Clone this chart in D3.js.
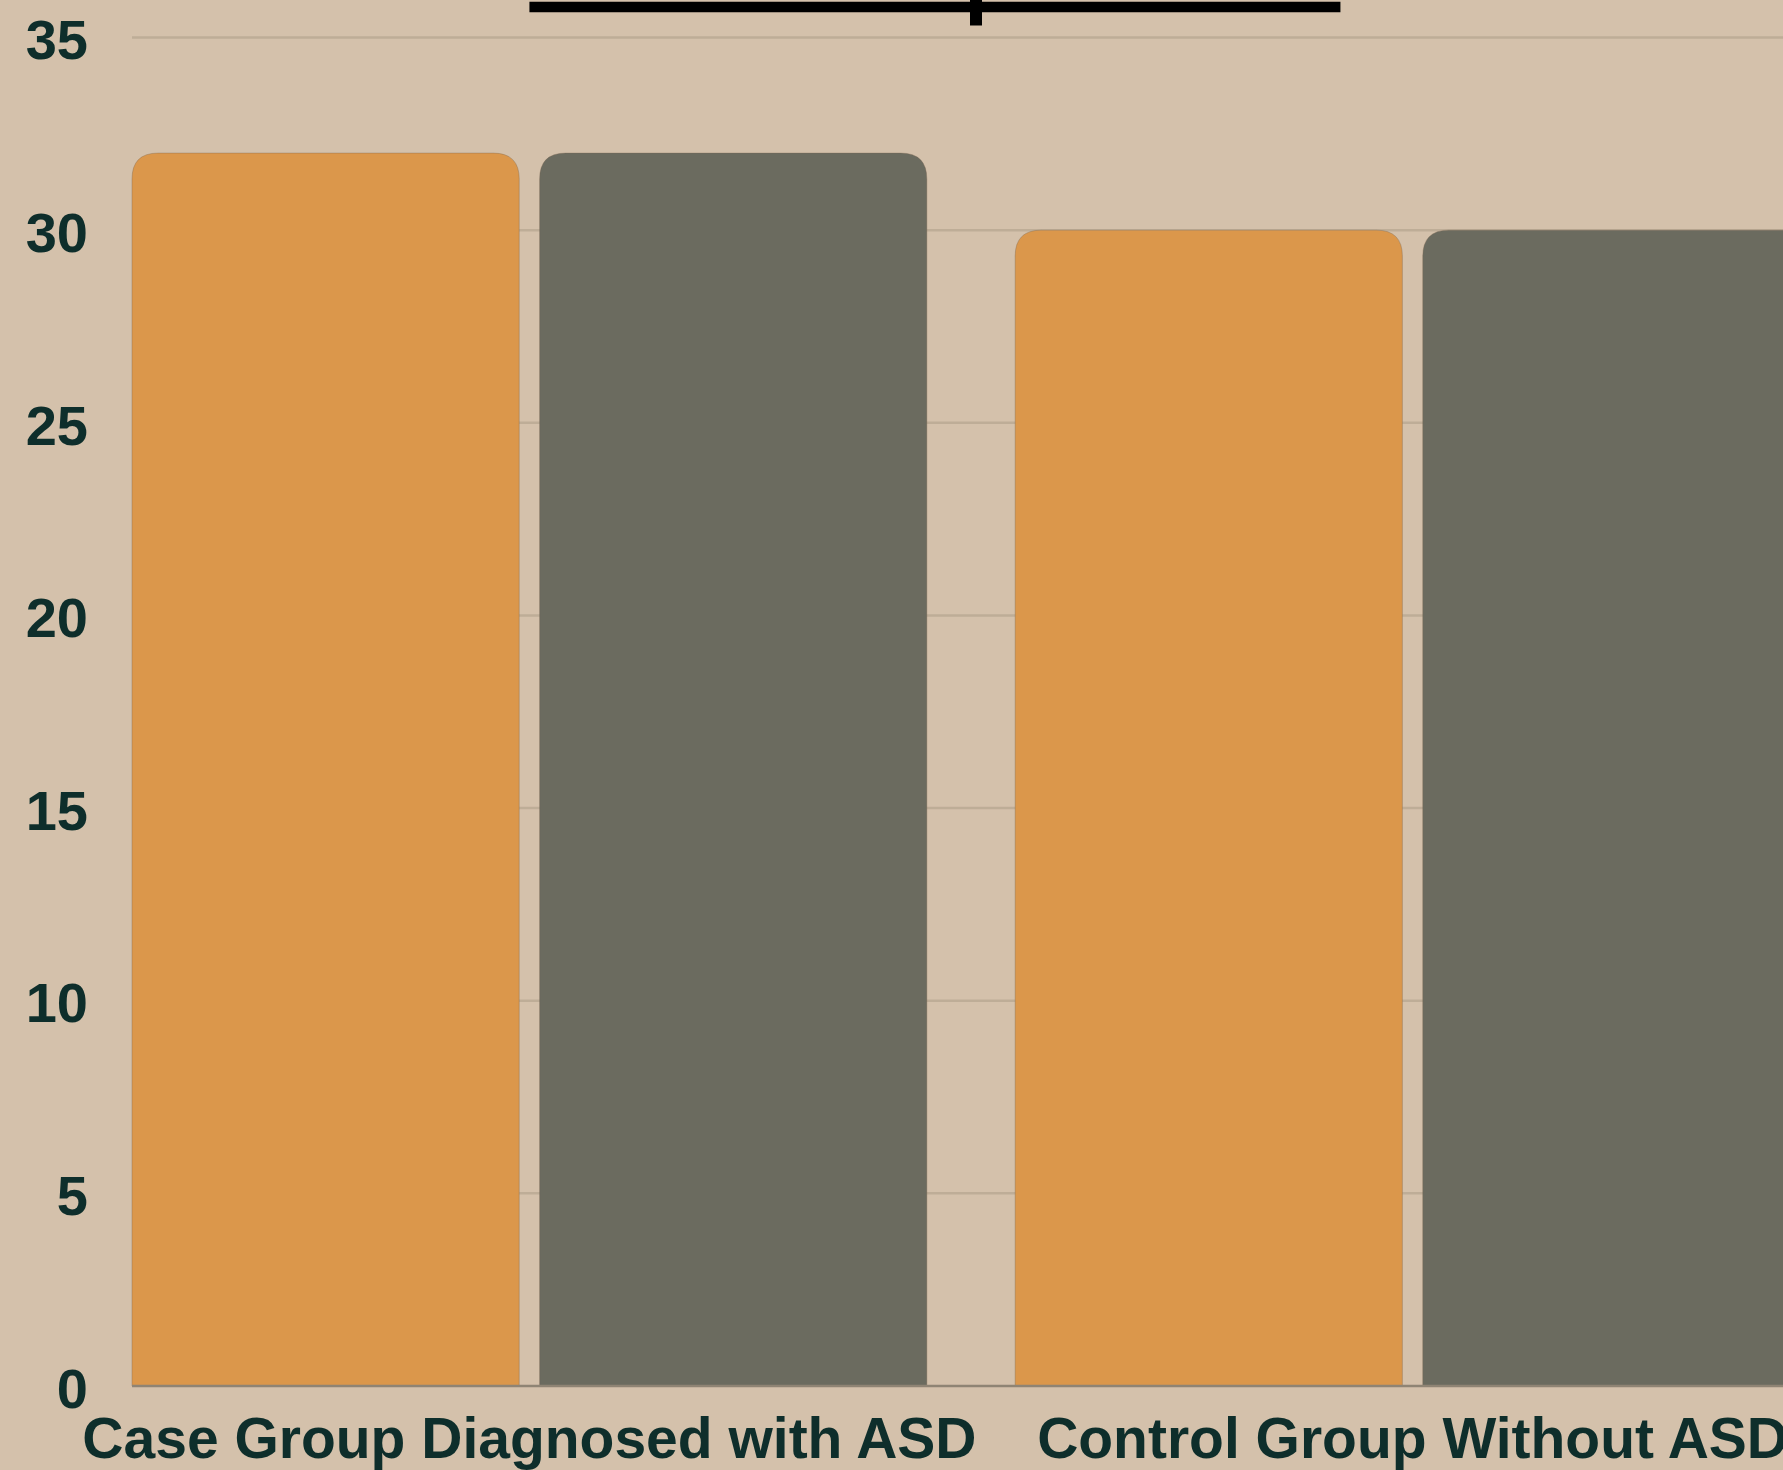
<!DOCTYPE html>
<html>
<head>
<meta charset="utf-8">
<script src="https://cdn.jsdelivr.net/npm/d3@7"></script>
<style>
  html, body { margin: 0; padding: 0; background: #d4c1ab; overflow: hidden; }
  svg { display: block; }
  .tick text { font-family: "Liberation Sans", Arial, sans-serif; font-weight: bold; fill: #0e2e2b; }
</style>
</head>
<body>
<div id="vis"></div>
<script>
// chart data
const groups = ["Case Group Diagnosed with ASD", "Control Group Without ASD"];
const seriesNames = ["Series 1", "Series 2"];
const series1 = [32, 30];
const series2 = [32, 30];
const yTicks = [0, 5, 10, 15, 20, 25, 30, 35];
const colors = ["#db974b", "#6b6b5f"];

const W = 1783, H = 1470;
const margin = { top: 37.5, left: 132, bottom: 84 };
const plotRight = 1810;  // plot runs past the right edge (cropped in the picture)

const svg = d3.select('#vis').append('svg')
  .attr('width', W).attr('height', H);

svg.append('rect').attr('width', W).attr('height', H).attr('fill', '#d4c1ab');

const x0 = d3.scaleBand().domain(groups)
  .range([margin.left, plotRight]).paddingInner(0.1).paddingOuter(0);
const x1 = d3.scaleBand().domain(seriesNames)
  .range([0, x0.bandwidth()]).paddingInner(0.05);
const y = d3.scaleLinear().domain([0, 35]).range([H - margin.bottom, margin.top]);

// gridlines
svg.append('g').selectAll('line')
  .data(yTicks.filter(d => d > 0)).enter()
  .append('line')
  .attr('x1', margin.left).attr('x2', W)
  .attr('y1', d => y(d)).attr('y2', d => y(d))
  .attr('stroke', '#bead97').attr('stroke-width', 2.5);

// y axis labels
const yAxis = svg.append('g')
  .attr('transform', `translate(${margin.left - 44},0)`)
  .call(d3.axisLeft(y).tickValues(yTicks).tickSize(0).tickPadding(0));
yAxis.select('.domain').remove();
yAxis.selectAll('text').attr('font-size', 56).attr('dy', '0.38em');

// bars
const rows = groups.map((g, i) => ({ group: g, values: [series1[i], series2[i]] }));
const r = 26;
function topRounded(xp, yp, w, h) {
  const rr = Math.min(r, h, w / 2);
  return `M${xp},${yp + h}V${yp + rr}Q${xp},${yp} ${xp + rr},${yp}` +
    `H${xp + w - rr}Q${xp + w},${yp} ${xp + w},${yp + rr}V${yp + h}Z`;
}

svg.append('g').selectAll('g')
  .data(rows).enter()
  .append('g')
  .attr('transform', d => `translate(${x0(d.group)},0)`)
  .selectAll('path')
  .data(d => d.values.map((v, j) => ({ key: seriesNames[j], value: v, j: j })))
  .enter().append('path')
  .attr('d', d => topRounded(x1(d.key), y(d.value), x1.bandwidth(), y(0) - y(d.value)))
  .attr('fill', d => colors[d.j])
  .attr('stroke', 'rgba(120,100,80,0.35)')
  .attr('stroke-width', 1);

// baseline
svg.append('line')
  .attr('x1', margin.left).attr('x2', W)
  .attr('y1', y(0)).attr('y2', y(0))
  .attr('stroke', '#8f8474').attr('stroke-width', 2.5);

// x axis labels
const xAxis = svg.append('g')
  .attr('transform', `translate(0,${y(0)})`)
  .call(d3.axisBottom(x0).tickSize(0).tickPadding(32));
xAxis.select('.domain').remove();
xAxis.selectAll('text').attr('font-size', 57).attr('dy', '0.71em');

// black bracket at the top (partially cropped)
const bracketY = 7;
const bx0 = x0(groups[0]) + x0.bandwidth() / 2;
const bx1 = x0(groups[1]) + x1(seriesNames[0]) + x1.bandwidth() * 0.84;
const bmid = (x0(groups[0]) + x0.bandwidth() + x0(groups[1])) / 2 + 5;
svg.append('line')
  .attr('x1', bx0).attr('x2', bx1)
  .attr('y1', bracketY).attr('y2', bracketY)
  .attr('stroke', '#000').attr('stroke-width', 10.5);
svg.append('line')
  .attr('x1', bmid).attr('x2', bmid)
  .attr('y1', 0).attr('y2', 25.5)
  .attr('stroke', '#000').attr('stroke-width', 12);
</script>
</body>
</html>
